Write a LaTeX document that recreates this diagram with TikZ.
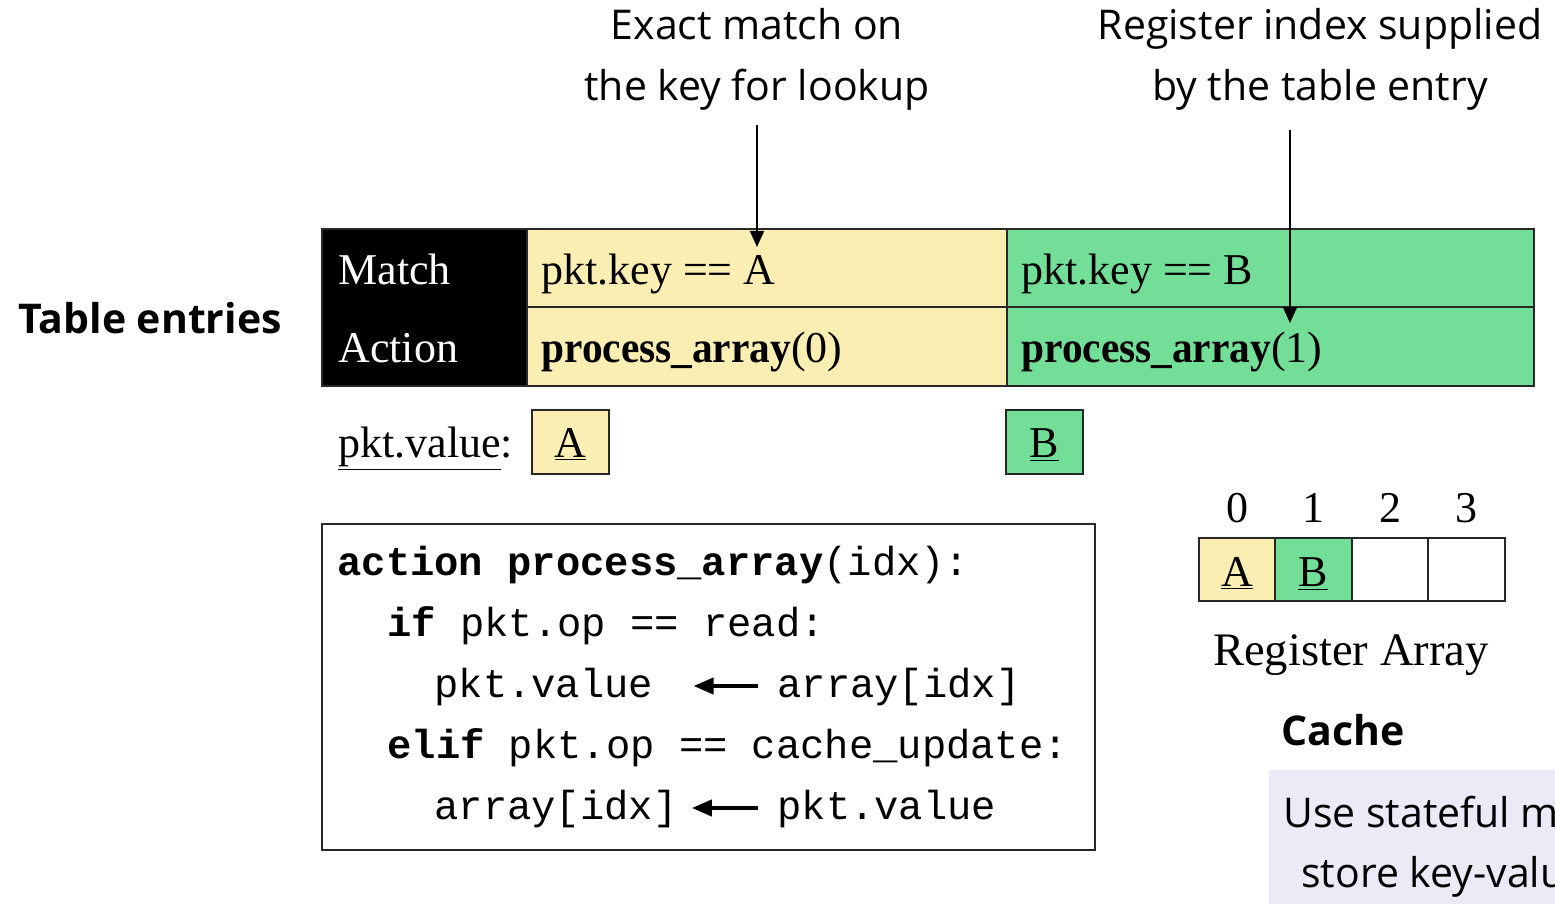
\documentclass[tikz,border=0pt]{standalone}
\usepackage{fontspec}
\setmainfont{Liberation Serif}
\setmonofont{Liberation Mono}
\newfontfamily\annfont{Open Sans}
\usetikzlibrary{arrows.meta}
\definecolor{cyel}{RGB}{251,238,178}
\definecolor{cgrn}{RGB}{115,222,152}
\definecolor{cnote}{RGB}{234,235,247}
\definecolor{cline}{RGB}{40,40,40}
\tikzset{
  ann/.style={font=\annfont\fontsize{20.5}{24}\selectfont, inner sep=0pt, anchor=base},
  annbold/.style={font=\annfont\bfseries\fontsize{20.5}{24}\selectfont, inner sep=0pt},
  serif/.style={font=\fontsize{22}{26}\selectfont, inner sep=0pt, anchor=base west},
  code/.style={font=\ttfamily\fontsize{20.25}{24}\selectfont, inner sep=0pt, anchor=base west},
  border/.style={draw=cline, line width=1pt},
  pointer/.style={-{Triangle[length=8pt,width=7pt]}, line width=1pt},
  assign/.style={-{Triangle[length=10pt,width=8pt]}, line width=2pt},
}
\begin{document}
\begin{tikzpicture}[x=0.5pt,y=-0.5pt]
\useasboundingbox (0,0) rectangle (1555,904);

% annotations
\node[ann] (ann1a) at (757,40) {Exact match on};
\node[ann] (ann1b) at (757,101) {the key for lookup};
\node[ann] (ann2a) at (1320,40) {Register index supplied};
\node[ann] (ann2b) at (1320,101) {by the table entry};
\node[annbold, anchor=base west] (tabent) at (18,333) {Table entries};

% table
\fill[black] (322,229) rectangle (527,386);
\fill[cyel] (527,229) rectangle (1007,386);
\fill[cgrn] (1007,229) rectangle (1534,386);
\draw[border] (527,307) -- (1534,307);
\draw[border] (527,229) -- (527,386);
\draw[border] (1007,229) -- (1007,386);
\draw[border] (322,229) rectangle (1534,386);

\node[serif, text=white] (match) at (338,285) {Match};
\node[serif, text=white] (action) at (338,362) {Action};
\node[serif] (keyA) at (541,285) {pkt.key == A};
\node[serif] (actA) at (541,362) {\textbf{\addfontfeature{FakeStretch=0.94}process\_array}(0)};
\node[serif] (keyB) at (1021,285) {pkt.key == B};
\node[serif] (actB) at (1021,362) {\textbf{\addfontfeature{FakeStretch=0.94}process\_array}(1)};

% annotation arrows
\coordinate (s1) at (757,125);
\coordinate (t1) at (757,247);
\coordinate (s2) at (1290,130);
\coordinate (t2) at (1290,323);
\draw[pointer] (s1) -- (t1);
\draw[pointer] (s2) -- (t2);

% pkt.value
\node[serif] (pv) at (338,457) {\underline{pkt.value}:};
\draw[border, fill=cyel] (532,410) rectangle (609,474);
\node[serif, anchor=base] (valA) at (570.5,457) {\underline{A}};
\draw[border, fill=cgrn] (1006,410) rectangle (1083,474);
\node[serif, anchor=base] (valB) at (1044.5,457) {\underline{B}};

% code box
\draw[border] (322,524) rectangle (1095,850);
\node[code] (c1) at (337,575) {\textbf{action process\_array}(idx):};
\node[code] (c2) at (387,636) {\textbf{if} pkt.op == read:};
\node[code] (c3l) at (434,697) {pkt.value};
\node[code] (c3r) at (777,697) {array[idx]};
\node[code] (c4) at (387,758) {\textbf{elif} pkt.op == cache\_update:};
\node[code] (c5l) at (434,819) {array[idx]};
\node[code] (c5r) at (777,819) {pkt.value};
\draw[assign] ([xshift=-9.5pt,yshift=5.5pt]c3r.base west) -- ([xshift=20pt,yshift=5.5pt]c3l.base east);
\draw[assign] ([xshift=-9.5pt,yshift=5.5pt]c5r.base west) -- ([xshift=7pt,yshift=5.5pt]c5l.base east);

% register array
\draw[border, fill=cyel] (1199,538) rectangle (1275,601);
\draw[border, fill=cgrn] (1275,538) rectangle (1352,601);
\draw[border] (1352,538) rectangle (1428,601);
\draw[border] (1428,538) rectangle (1505,601);
\node[serif, anchor=base] (r0) at (1237,522) {0};
\node[serif, anchor=base] (r1) at (1313,522) {1};
\node[serif, anchor=base] (r2) at (1390,522) {2};
\node[serif, anchor=base] (r3) at (1466,522) {3};
\node[serif, anchor=base] (ra) at (1237,586) {\underline{A}};
\node[serif, anchor=base] (rb) at (1313,586) {\underline{B}};
\node[serif, anchor=base, font=\fontsize{23.3}{27}\selectfont] (reglabel) at (1351,665) {Register Array};
\node[annbold, anchor=base] (cache) at (1343,745) {Cache};

% note
\begin{scope}
\clip (1269,770) rectangle (1555,904);
\fill[cnote] (1269,770) rectangle (1555,904);
\node[ann, anchor=base west] (note1) at (1283,827) {Use stateful m};
\node[ann, anchor=base west] (note2) at (1301,887) {store key-valu};
\end{scope}
\end{tikzpicture}
\end{document}
